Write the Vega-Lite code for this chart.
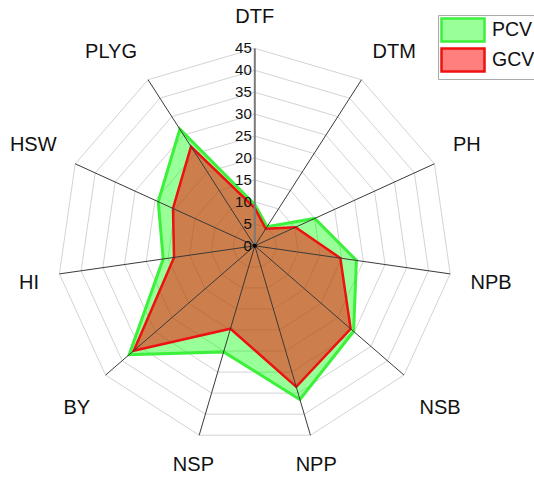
{
  "$schema": "https://vega.github.io/schema/vega-lite/v6.json",
  "width": 534,
  "height": 481,
  "autosize": {"type": "none"},
  "padding": 0,
  "background": "white",
  "datasets": {
    "traits": [
      {"trait": "DTF", "idx": 0, "PCV": 9.4, "GCV": 8.6},
      {"trait": "DTM", "idx": 1, "PCV": 5.2, "GCV": 4.6},
      {"trait": "PH", "idx": 2, "PCV": 15.0, "GCV": 10.2},
      {"trait": "NPB", "idx": 3, "PCV": 23.4, "GCV": 19.7},
      {"trait": "NSB", "idx": 4, "PCV": 29.8, "GCV": 28.9},
      {"trait": "NPP", "idx": 5, "PCV": 36.5, "GCV": 33.5},
      {"trait": "NSP", "idx": 6, "PCV": 25.2, "GCV": 19.7},
      {"trait": "BY", "idx": 7, "PCV": 37.9, "GCV": 36.5},
      {"trait": "HI", "idx": 8, "PCV": 21.1, "GCV": 18.6},
      {"trait": "HSW", "idx": 9, "PCV": 24.2, "GCV": 20.5},
      {"trait": "PLYG", "idx": 10, "PCV": 31.6, "GCV": 26.9}
    ],
    "grid": [
      {"level": 5, "idx": [0, 1, 2, 3, 4, 5, 6, 7, 8, 9, 10]},
      {"level": 10, "idx": [0, 1, 2, 3, 4, 5, 6, 7, 8, 9, 10]},
      {"level": 15, "idx": [0, 1, 2, 3, 4, 5, 6, 7, 8, 9, 10]},
      {"level": 20, "idx": [0, 1, 2, 3, 4, 5, 6, 7, 8, 9, 10]},
      {"level": 25, "idx": [0, 1, 2, 3, 4, 5, 6, 7, 8, 9, 10]},
      {"level": 30, "idx": [0, 1, 2, 3, 4, 5, 6, 7, 8, 9, 10]},
      {"level": 35, "idx": [0, 1, 2, 3, 4, 5, 6, 7, 8, 9, 10]},
      {"level": 40, "idx": [0, 1, 2, 3, 4, 5, 6, 7, 8, 9, 10]},
      {"level": 45, "idx": [0, 1, 2, 3, 4, 5, 6, 7, 8, 9, 10]}
    ],
    "ticks": [
      {"level": 0}, {"level": 5}, {"level": 10}, {"level": 15}, {"level": 20},
      {"level": 25}, {"level": 30}, {"level": 35}, {"level": 40}, {"level": 45}
    ]
  },
  "layer": [
    {
      "data": {"name": "grid"},
      "transform": [
        {"flatten": ["idx"]},
        {"calculate": "datum.idx * 2 * PI / 11", "as": "angle"},
        {"calculate": "datum.level * sin(datum.angle)", "as": "gx"},
        {"calculate": "datum.level * cos(datum.angle)", "as": "gy"}
      ],
      "mark": {"type": "line", "interpolate": "linear-closed", "stroke": "#c8c8c8", "strokeWidth": 0.8},
      "encoding": {
        "x": {"field": "gx", "type": "quantitative", "scale": {"domain": [-58.08, 63.64], "nice": false, "zero": false}, "axis": null},
        "y": {"field": "gy", "type": "quantitative", "scale": {"domain": [-53.61, 56.03], "nice": false, "zero": false}, "axis": null},
        "detail": {"field": "level", "type": "nominal"},
        "order": {"field": "idx", "type": "quantitative"}
      }
    },
    {
      "data": {"name": "traits"},
      "transform": [
        {"fold": ["PCV", "GCV"], "as": ["series", "value"]},
        {"filter": "datum.series === 'PCV'"},
        {"calculate": "datum.idx * 2 * PI / 11", "as": "angle"},
        {"calculate": "datum.value * sin(datum.angle)", "as": "px"},
        {"calculate": "datum.value * cos(datum.angle)", "as": "py"}
      ],
      "mark": {"type": "line", "interpolate": "linear-closed", "strokeWidth": 3, "strokeJoin": "miter"},
      "encoding": {
        "x": {"field": "px", "type": "quantitative"},
        "y": {"field": "py", "type": "quantitative"},
        "order": {"field": "idx", "type": "quantitative"},
        "fill": {"field": "series", "type": "nominal", "scale": {"domain": ["PCV", "GCV"], "range": ["rgba(0,255,0,0.4)", "rgba(255,0,0,0.5)"]},
          "legend": {"title": null}},
        "stroke": {"field": "series", "type": "nominal", "scale": {"domain": ["PCV", "GCV"], "range": ["#3cf03c", "#ee1111"]},
          "legend": {"title": null}}
      }
    },
    {
      "data": {"name": "traits"},
      "transform": [
        {"fold": ["PCV", "GCV"], "as": ["series", "value"]},
        {"filter": "datum.series === 'GCV'"},
        {"calculate": "datum.idx * 2 * PI / 11", "as": "angle"},
        {"calculate": "datum.value * sin(datum.angle)", "as": "px"},
        {"calculate": "datum.value * cos(datum.angle)", "as": "py"}
      ],
      "mark": {"type": "line", "interpolate": "linear-closed", "strokeWidth": 2.5, "strokeJoin": "miter"},
      "encoding": {
        "x": {"field": "px", "type": "quantitative"},
        "y": {"field": "py", "type": "quantitative"},
        "order": {"field": "idx", "type": "quantitative"},
        "fill": {"field": "series", "type": "nominal", "legend": {"title": null}},
        "stroke": {"field": "series", "type": "nominal", "legend": {"title": null}}
      }
    },
    {
      "data": {"name": "traits"},
      "transform": [
        {"filter": "datum.idx > 0"},
        {"calculate": "datum.idx * 2 * PI / 11", "as": "angle"},
        {"calculate": "45 * sin(datum.angle)", "as": "ex"},
        {"calculate": "45 * cos(datum.angle)", "as": "ey"}
      ],
      "mark": {"type": "rule", "color": "#3a3a3a", "strokeWidth": 1},
      "encoding": {
        "x": {"field": "ex", "type": "quantitative"},
        "y": {"field": "ey", "type": "quantitative"},
        "x2": {"datum": 0},
        "y2": {"datum": 0}
      }
    },
    {
      "data": {"name": "traits"},
      "transform": [
        {"filter": "datum.idx === 0"},
        {"calculate": "datum.idx * 2 * PI / 11", "as": "angle"},
        {"calculate": "45 * sin(datum.angle)", "as": "ex"},
        {"calculate": "45 * cos(datum.angle)", "as": "ey"}
      ],
      "mark": {"type": "rule", "color": "#7a7a7a", "strokeWidth": 2},
      "encoding": {
        "x": {"field": "ex", "type": "quantitative"},
        "y": {"field": "ey", "type": "quantitative"},
        "x2": {"datum": 0},
        "y2": {"datum": 0}
      }
    },
    {
      "data": {"name": "ticks"},
      "mark": {"type": "text", "align": "right", "baseline": "middle", "dx": -3, "fontSize": 15, "color": "#111"},
      "encoding": {
        "x": {"datum": 0, "type": "quantitative"},
        "y": {"field": "level", "type": "quantitative"},
        "text": {"field": "level", "type": "quantitative"}
      }
    },
    {
      "data": {"name": "ticks"},
      "transform": [{"filter": "datum.level === 0"}],
      "mark": {"type": "point", "filled": true, "color": "#000", "size": 18, "opacity": 1},
      "encoding": {
        "x": {"field": "level", "type": "quantitative"},
        "y": {"field": "level", "type": "quantitative"}
      }
    },
    {
      "data": {"name": "traits"},
      "transform": [
        {"filter": "datum.idx >= 1 && datum.idx <= 4"},
        {"calculate": "datum.idx * 2 * PI / 11", "as": "angle"},
        {"calculate": "49.67 * sin(datum.angle)", "as": "lx"},
        {"calculate": "49.56 * cos(datum.angle) + (cos(datum.angle) > 0.3 ? 2.5 : cos(datum.angle) > -0.3 ? -1.5 : cos(datum.angle) > -0.8 ? -4.5 : -2.5)", "as": "ly"}
      ],
      "mark": {"type": "text", "align": "left", "baseline": "middle", "fontSize": 20, "color": "#111"},
      "encoding": {
        "x": {"field": "lx", "type": "quantitative"},
        "y": {"field": "ly", "type": "quantitative"},
        "text": {"field": "trait", "type": "nominal"}
      }
    },
    {
      "data": {"name": "traits"},
      "transform": [
        {"filter": "datum.idx >= 7"},
        {"calculate": "datum.idx * 2 * PI / 11", "as": "angle"},
        {"calculate": "49.67 * sin(datum.angle)", "as": "lx"},
        {"calculate": "49.56 * cos(datum.angle) + (cos(datum.angle) > 0.3 ? 2.5 : cos(datum.angle) > -0.3 ? -1.5 : cos(datum.angle) > -0.8 ? -4.5 : -2.5)", "as": "ly"}
      ],
      "mark": {"type": "text", "align": "right", "baseline": "middle", "fontSize": 20, "color": "#111"},
      "encoding": {
        "x": {"field": "lx", "type": "quantitative"},
        "y": {"field": "ly", "type": "quantitative"},
        "text": {"field": "trait", "type": "nominal"}
      }
    },
    {
      "data": {"name": "traits"},
      "transform": [
        {"filter": "datum.idx === 0 || datum.idx === 5 || datum.idx === 6"},
        {"calculate": "datum.idx * 2 * PI / 11", "as": "angle"},
        {"calculate": "49.67 * sin(datum.angle)", "as": "lx"},
        {"calculate": "49.56 * cos(datum.angle) + (cos(datum.angle) > 0.3 ? 2.5 : cos(datum.angle) > -0.3 ? -1.5 : cos(datum.angle) > -0.8 ? -4.5 : -2.5)", "as": "ly"}
      ],
      "mark": {"type": "text", "align": "center", "baseline": "middle", "fontSize": 20, "color": "#111"},
      "encoding": {
        "x": {"field": "lx", "type": "quantitative"},
        "y": {"field": "ly", "type": "quantitative"},
        "text": {"field": "trait", "type": "nominal"}
      }
    }
  ],
  "config": {
    "view": {"stroke": null},
    "font": "Arial",
    "legend": {
      "orient": "none",
      "legendX": 438,
      "legendY": 15,
      "fillColor": "white",
      "strokeColor": "#aaaaaa",
      "padding": 2,
      "labelFontSize": 19.5,
      "labelColor": "#111",
      "labelOffset": 26,
      "symbolType": "M-1,-1H2.74V1H-1Z",
      "symbolSize": 529,
      "symbolStrokeWidth": 2.5,
      "symbolOpacity": 1,
      "rowPadding": -10
    }
  }
}
